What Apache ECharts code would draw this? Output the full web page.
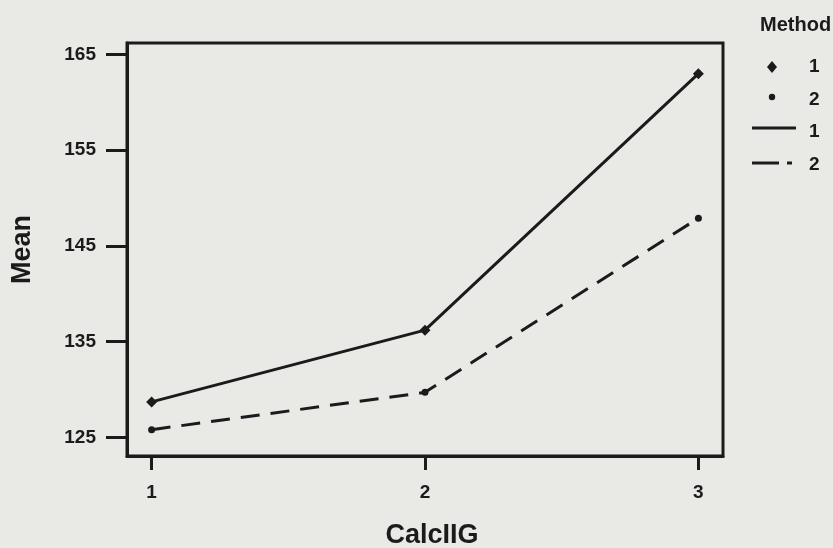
<!DOCTYPE html>
<html>
<head>
<meta charset="utf-8">
<script src="https://cdn.jsdelivr.net/npm/echarts@6/dist/echarts.min.js"></script>
<style>
html,body{margin:0;padding:0;background:#e9e9e6;}
#c{width:833px;height:548px;}
</style>
</head>
<body>
<div id="c"></div>
<script>
var categories = [1, 2, 3];
var method1 = [128.7, 136.2, 163.0];
var method2 = [125.8, 129.7, 147.9];
var yTicks = [125, 135, 145, 155, 165];
var xTitle = 'CalcIIG';
var yTitle = 'Mean';
var legendTitle = 'Method';
var legendNames = ['1', '2'];

var ink = '#1b1b1b';
var font = 'Liberation Sans, Arial, sans-serif';

var chart = echarts.init(document.getElementById('c'));
function pts(vals){ return categories.map(function(c,i){ return [c, vals[i]]; }); }

chart.setOption({
  backgroundColor: '#e9e9e6',
  animation: false,
  grid: {left: 127, right: 110, top: 43, bottom: 92, show: true, borderColor: ink, borderWidth: 3, backgroundColor: 'transparent', containLabel: false, outerBoundsMode: 'none'},
  xAxis: {
    type: 'value', min: 0.91, max: 3.09,
    name: xTitle, nameLocation: 'middle', nameGap: 66,
    nameTextStyle: {color: ink, fontFamily: font, fontSize: 27, fontWeight: 'bold', padding: [0, 0, 0, 14]},
    axisLine: {show: true, lineStyle: {color: ink, width: 3}},
    axisTick: {show: true, length: 14, lineStyle: {color: ink, width: 3}, customValues: categories},
    axisLabel: {color: ink, fontFamily: font, fontSize: 19, fontWeight: 'bold', margin: 27, customValues: categories},
    splitLine: {show: false}
  },
  yAxis: {
    type: 'value', min: 123.05, max: 166.2,
    name: yTitle, nameLocation: 'middle', nameGap: 91, nameRotate: 90,
    nameTextStyle: {color: ink, fontFamily: font, fontSize: 27, fontWeight: 'bold'},
    axisLine: {show: true, lineStyle: {color: ink, width: 3}},
    axisTick: {show: true, length: 21, lineStyle: {color: ink, width: 3}, customValues: yTicks},
    axisLabel: {color: ink, fontFamily: font, fontSize: 19, fontWeight: 'bold', margin: 31, customValues: yTicks},
    splitLine: {show: false}
  },
  series: [
    {type: 'line', name: legendNames[0], data: pts(method1), symbol: 'diamond', symbolSize: 11, showAllSymbol: true,
     itemStyle: {color: ink}, lineStyle: {color: ink, width: 3, type: 'solid'}},
    {type: 'line', name: legendNames[1], data: pts(method2), symbol: 'circle', symbolSize: 7, showAllSymbol: true,
     itemStyle: {color: ink}, lineStyle: {color: ink, width: 3, type: [19, 11]}}
  ],
  graphic: [
    {type: 'text', left: 760, top: 15, style: {text: legendTitle, fill: ink, font: 'bold 20px ' + font}},
    {type: 'polygon', shape: {points: [[772,61],[777,67],[772,73],[767,67]]}, style: {fill: ink}},
    {type: 'text', x: 809, y: 67, style: {text: legendNames[0], fill: ink, font: 'bold 19px ' + font, verticalAlign: 'middle'}},
    {type: 'circle', shape: {cx: 772, cy: 97, r: 3.2}, style: {fill: ink}},
    {type: 'text', x: 809, y: 100, style: {text: legendNames[1], fill: ink, font: 'bold 19px ' + font, verticalAlign: 'middle'}},
    {type: 'line', shape: {x1: 752, y1: 128, x2: 796, y2: 128}, style: {stroke: ink, lineWidth: 3}},
    {type: 'text', x: 809, y: 132, style: {text: legendNames[0], fill: ink, font: 'bold 19px ' + font, verticalAlign: 'middle'}},
    {type: 'line', shape: {x1: 752, y1: 163, x2: 779, y2: 163}, style: {stroke: ink, lineWidth: 3}},
    {type: 'line', shape: {x1: 787, y1: 163, x2: 792, y2: 163}, style: {stroke: ink, lineWidth: 3}},
    {type: 'text', x: 809, y: 165, style: {text: legendNames[1], fill: ink, font: 'bold 19px ' + font, verticalAlign: 'middle'}}
  ]
});
</script>
</body>
</html>
